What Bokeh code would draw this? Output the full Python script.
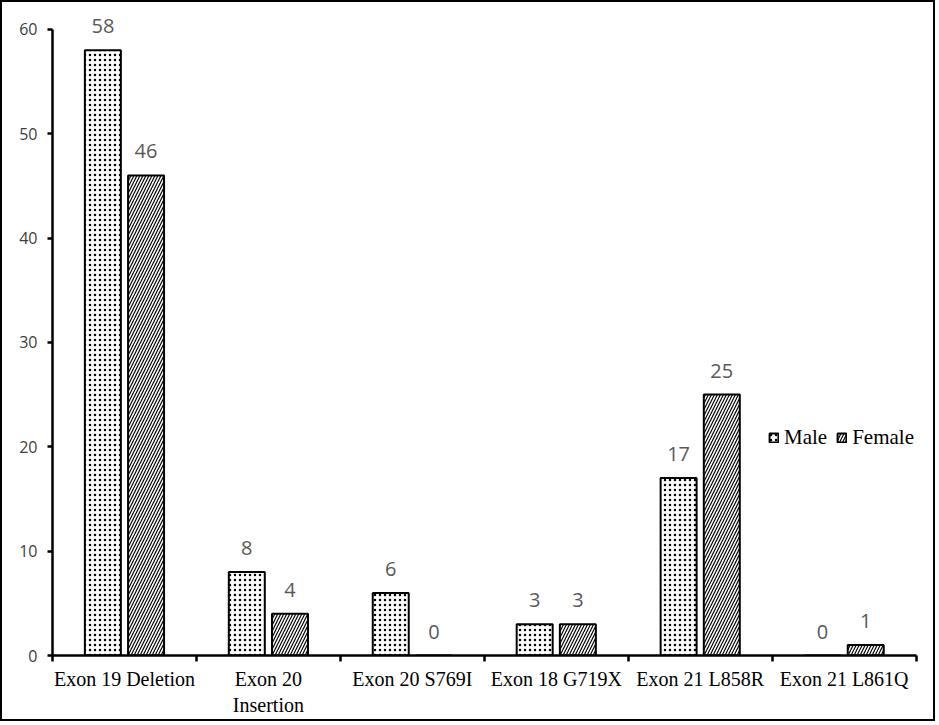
from bokeh.plotting import figure
from bokeh.models import ColumnDataSource, FixedTicker, Legend, LegendItem
from bokeh.transform import dodge
from bokeh.core.properties import value
from bokeh.embed import file_html
from bokeh.resources import INLINE

categories = ["Exon 19 Deletion", "Exon 20\nInsertion", "Exon 20 S769I",
              "Exon 18 G719X", "Exon 21 L858R", "Exon 21 L861Q"]
male = [58, 8, 6, 3, 17, 0]
female = [46, 4, 0, 3, 25, 1]
y_ticks = [0, 10, 20, 30, 40, 50, 60]

n = len(categories)
pos = list(range(1, n + 1))
src = ColumnDataSource(dict(
    x=pos, male=male, female=female,
    male_lbl=[str(v) for v in male], female_lbl=[str(v) for v in female],
))

p = figure(width=935, height=721, x_range=(0.5, n + 0.6), y_range=(0, 62),
           output_backend="svg", toolbar_location=None,
           min_border_left=50, min_border_right=7, min_border_top=6, min_border_bottom=68)
p.styles = {"border": "2px solid black"}
p.outline_line_color = None
p.grid.visible = False
p.background_fill_color = "white"
p.border_fill_color = "white"

off = 0.15
bw = 0.25
rm = p.vbar(x=dodge("x", -off, range=p.x_range), top="male", width=bw, source=src,
            fill_color="white", line_color="black", line_width=2,
            hatch_pattern="dot", hatch_color="black", hatch_scale=5, hatch_weight=1.2)
rf = p.vbar(x=dodge("x", off, range=p.x_range), top="female", width=bw, source=src,
            fill_color="white", line_color="black", line_width=2,
            hatch_pattern="right_diagonal_line", hatch_color="black", hatch_scale=6, hatch_weight=1.2)

lbl_kw = dict(text_align="center", text_baseline="bottom", y_offset=-17,
              text_font=value("Open Sans"), text_font_size="20px", text_color="#595959")
p.text(x=dodge("x", -off, range=p.x_range), y="male", text="male_lbl", source=src, **lbl_kw)
p.text(x=dodge("x", off, range=p.x_range), y="female", text="female_lbl", source=src, **lbl_kw)

# y axis
ya = p.yaxis[0]
ya.ticker = FixedTicker(ticks=y_ticks)
ya.bounds = (0, 60)
ya.axis_line_width = 2.5
ya.axis_line_color = "black"
ya.major_tick_in = 0
ya.major_tick_out = 5
ya.major_tick_line_width = 2.5
ya.minor_tick_line_color = None
ya.major_label_text_font = "Open Sans"
ya.major_label_text_font_size = "16px"
ya.major_label_text_color = "#404040"
ya.major_label_standoff = 10

# x axis
xa = p.xaxis[0]
xa.ticker = FixedTicker(ticks=pos, minor_ticks=[i + 0.5 for i in range(n + 1)])
xa.bounds = (0.5, n + 0.5)
xa.major_label_overrides = {i: c for i, c in zip(pos, categories)}
xa.axis_line_width = 2.5
xa.axis_line_color = "black"
xa.major_tick_line_color = None
xa.minor_tick_in = 0
xa.minor_tick_out = 6
xa.minor_tick_line_width = 2.5
xa.minor_tick_line_color = "black"
xa.major_label_text_font = "Liberation Serif"
xa.major_label_text_font_size = "20px"
xa.major_label_text_color = "black"
xa.major_label_standoff = 6

legend = Legend(items=[LegendItem(label="Male", renderers=[rm]),
                       LegendItem(label="Female", renderers=[rf])],
                orientation="horizontal", location=(716, 205),
                label_text_font="Liberation Serif", label_text_font_size="21px",
                label_text_color="black", glyph_width=11, glyph_height=11,
                label_standoff=5, spacing=9, padding=0, margin=0,
                border_line_color=None, background_fill_alpha=0)
p.add_layout(legend, "center")

open("out.html", "w").write(file_html(p, INLINE))
